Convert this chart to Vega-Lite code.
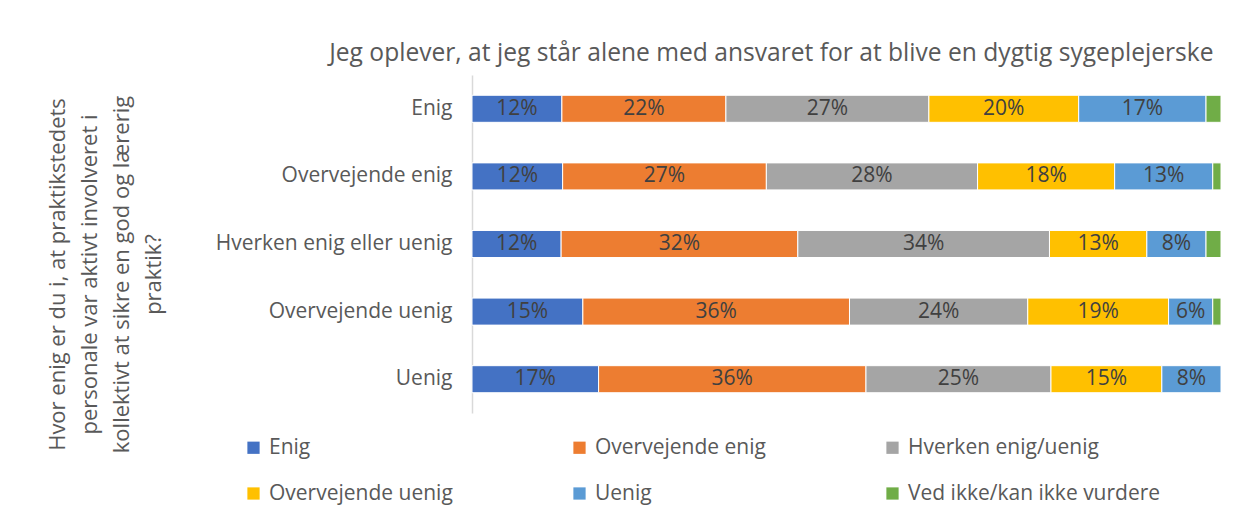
{
  "$schema": "https://vega.github.io/schema/vega-lite/v6.json",
  "autosize": {"type": "none"},
  "width": 749,
  "height": 338,
  "padding": {"left": 472, "top": 75, "right": 26, "bottom": 115},
  "background": "white",
  "config": {
    "font": "Open Sans",
    "view": {"stroke": null}
  },
  "title": {
    "text": "Jeg oplever, at jeg står alene med ansvaret for at blive en dygtig sygeplejerske",
    "anchor": "end",
    "fontSize": 24.6,
    "fontWeight": "normal",
    "color": "#595959",
    "offset": 8,
    "dx": -8
  },
  "data": {
    "values": [
      {"svar": "Enig", "kat": "Enig", "v": 0.120},
      {"svar": "Enig", "kat": "Overvejende enig", "v": 0.219},
      {"svar": "Enig", "kat": "Hverken enig/uenig", "v": 0.271},
      {"svar": "Enig", "kat": "Overvejende uenig", "v": 0.200},
      {"svar": "Enig", "kat": "Uenig", "v": 0.170},
      {"svar": "Enig", "kat": "Ved ikke/kan ikke vurdere", "v": 0.020},
      {"svar": "Overvejende enig", "kat": "Enig", "v": 0.121},
      {"svar": "Overvejende enig", "kat": "Overvejende enig", "v": 0.272},
      {"svar": "Overvejende enig", "kat": "Hverken enig/uenig", "v": 0.282},
      {"svar": "Overvejende enig", "kat": "Overvejende uenig", "v": 0.183},
      {"svar": "Overvejende enig", "kat": "Uenig", "v": 0.131},
      {"svar": "Overvejende enig", "kat": "Ved ikke/kan ikke vurdere", "v": 0.011},
      {"svar": "Hverken enig eller uenig", "kat": "Enig", "v": 0.119},
      {"svar": "Hverken enig eller uenig", "kat": "Overvejende enig", "v": 0.316},
      {"svar": "Hverken enig eller uenig", "kat": "Hverken enig/uenig", "v": 0.336},
      {"svar": "Hverken enig eller uenig", "kat": "Overvejende uenig", "v": 0.130},
      {"svar": "Hverken enig eller uenig", "kat": "Uenig", "v": 0.079},
      {"svar": "Hverken enig eller uenig", "kat": "Ved ikke/kan ikke vurdere", "v": 0.020},
      {"svar": "Overvejende uenig", "kat": "Enig", "v": 0.148},
      {"svar": "Overvejende uenig", "kat": "Overvejende enig", "v": 0.356},
      {"svar": "Overvejende uenig", "kat": "Hverken enig/uenig", "v": 0.238},
      {"svar": "Overvejende uenig", "kat": "Overvejende uenig", "v": 0.188},
      {"svar": "Overvejende uenig", "kat": "Uenig", "v": 0.059},
      {"svar": "Overvejende uenig", "kat": "Ved ikke/kan ikke vurdere", "v": 0.011},
      {"svar": "Uenig", "kat": "Enig", "v": 0.169},
      {"svar": "Uenig", "kat": "Overvejende enig", "v": 0.357},
      {"svar": "Uenig", "kat": "Hverken enig/uenig", "v": 0.247},
      {"svar": "Uenig", "kat": "Overvejende uenig", "v": 0.148},
      {"svar": "Uenig", "kat": "Uenig", "v": 0.079}
    ]
  },
  "transform": [
    {"calculate": "indexof(['Enig','Overvejende enig','Hverken enig/uenig','Overvejende uenig','Uenig','Ved ikke/kan ikke vurdere'], datum.kat)", "as": "ord"},
    {"stack": "v", "groupby": ["svar"], "sort": [{"field": "ord", "order": "ascending"}], "as": ["x0", "x1"]},
    {"calculate": "(datum.x0 + datum.x1) / 2", "as": "xm"}
  ],
  "encoding": {
    "y": {
      "field": "svar",
      "type": "nominal",
      "sort": ["Enig", "Overvejende enig", "Hverken enig eller uenig", "Overvejende uenig", "Uenig"],
      "scale": {"paddingInner": 0.6, "paddingOuter": 0.3},
      "axis": {
        "title": ["Hvor enig er du i, at praktikstedets", "personale var aktivt involveret i", "kollektivt at sikre en god og lærerig", "praktik?"],
        "titleFontSize": 22,
        "titleFontWeight": "normal",
        "titleColor": "#595959",
        "titleAngle": -90,
        "titleAlign": "center",
        "titleBaseline": "middle",
        "titleLineHeight": 32,
        "titleX": -415,
        "titleY": 199,
        "labelFontSize": 21,
        "labelColor": "#595959",
        "labelPadding": 20,
        "labelLimit": 400,
        "ticks": false,
        "domainColor": "#d9d9d9",
        "domainWidth": 1.5
      }
    }
  },
  "layer": [
    {
      "mark": {"type": "bar", "stroke": "white", "strokeWidth": 1},
      "encoding": {
        "x": {"field": "x0", "type": "quantitative", "scale": {"domain": [0, 1], "nice": false}, "axis": null},
        "x2": {"field": "x1"},
        "color": {
          "field": "kat",
          "type": "nominal",
          "sort": ["Enig", "Overvejende enig", "Hverken enig/uenig", "Overvejende uenig", "Uenig", "Ved ikke/kan ikke vurdere"],
          "scale": {
            "domain": ["Enig", "Overvejende enig", "Hverken enig/uenig", "Overvejende uenig", "Uenig", "Ved ikke/kan ikke vurdere"],
            "range": ["#4472C4", "#ED7D31", "#A5A5A5", "#FFC000", "#5B9BD5", "#70AD47"]
          },
          "legend": {
            "title": null,
            "orient": "none",
            "direction": "horizontal",
            "legendX": -229,
            "legendY": 362,
            "columns": 3,
            "columnPadding": 116,
            "rowPadding": 24,
            "symbolType": "square",
            "symbolSize": 150,
            "symbolStrokeWidth": 0,
            "labelFontSize": 21,
            "labelColor": "#595959",
            "labelOffset": 5,
            "labelLimit": 400
          }
        }
      }
    },
    {
      "transform": [{"filter": "datum.kat != 'Ved ikke/kan ikke vurdere'"}],
      "mark": {"type": "text", "fontSize": 21, "color": "#404040", "baseline": "middle"},
      "encoding": {
        "x": {"field": "xm", "type": "quantitative"},
        "text": {"field": "v", "type": "quantitative", "format": ".0%"}
      }
    }
  ]
}
